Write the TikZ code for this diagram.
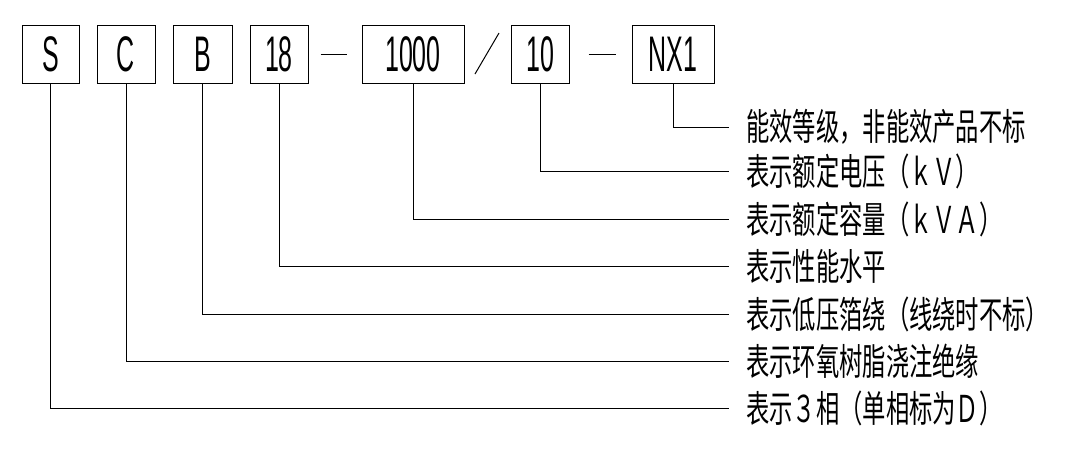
\documentclass[tikz,border=0pt]{standalone}
\usepackage{fontspec}
\newfontfamily\cjkfont[FakeStretch=0.63]{Noto Sans CJK SC}
\newfontfamily\cadfont[FakeStretch=0.5]{Liberation Sans}
\tikzset{
  codebox/.style={draw, line width=1pt, inner sep=0pt, minimum height=58pt,
    font=\cadfont\fontsize{50}{54}\selectfont},
  desc/.style={anchor=west, inner sep=0pt, font=\cjkfont\fontsize{37}{40}\selectfont},
  leader/.style={line width=1pt},
}
\begin{document}
\begin{tikzpicture}[x=1pt,y=-1pt]
\useasboundingbox[fill=white] (0,0) rectangle (1080,459);
% code boxes
\node[codebox, minimum width=57pt]  (bS)   at (50.5,54) {S};
\node[codebox, minimum width=58pt]  (bC)   at (126,54)  {C};
\node[codebox, minimum width=59pt]  (bB)   at (202.5,54) {B};
\node[codebox, minimum width=58pt]  (b18)  at (279,54)  {18};
\node[codebox, minimum width=102pt] (b1000) at (413,54) {1000};
\node[codebox, minimum width=58pt]  (b10)  at (540,54)  {10};
\node[codebox, minimum width=82pt]  (bNX)  at (673,54)  {NX1};
% separators
\draw[leader] ([xshift=12pt]b18.east) -- ([xshift=-15pt]b1000.west);
\draw[leader] (475,74) -- (499,33);
\draw[leader] ([xshift=19pt]b10.east) -- ([xshift=-16pt]bNX.west);
% descriptions
\node[desc] (t1) at (746,127.3) {能效等级，非能效产品不标};
\node[desc] (t2) at (746,171.7) {表示额定电压（ｋＶ）};
\node[desc] (t3) at (746,219.3) {表示额定容量（ｋＶＡ）};
\node[desc] (t4) at (746,266)   {表示性能水平};
\node[desc] (t5) at (746,314)   {表示低压箔绕（线绕时不标）};
\node[desc] (t6) at (746,361.5) {表示环氧树脂浇注绝缘};
\node[desc] (t7) at (746,408.3) {表示３相（单相标为Ｄ）};
% leaders
\draw[leader] (bNX.south)   |- ([xshift=-17pt]t1.west);
\draw[leader] (b10.south)   |- ([xshift=-17pt]t2.west);
\draw[leader] (b1000.south) |- ([xshift=-17pt]t3.west);
\draw[leader] (b18.south)   |- ([xshift=-17pt]t4.west);
\draw[leader] (bB.south)    |- ([xshift=-17pt]t5.west);
\draw[leader] (bC.south)    |- ([xshift=-17pt]t6.west);
\draw[leader] (bS.south)    |- ([xshift=-17pt]t7.west);
\end{tikzpicture}
\end{document}
